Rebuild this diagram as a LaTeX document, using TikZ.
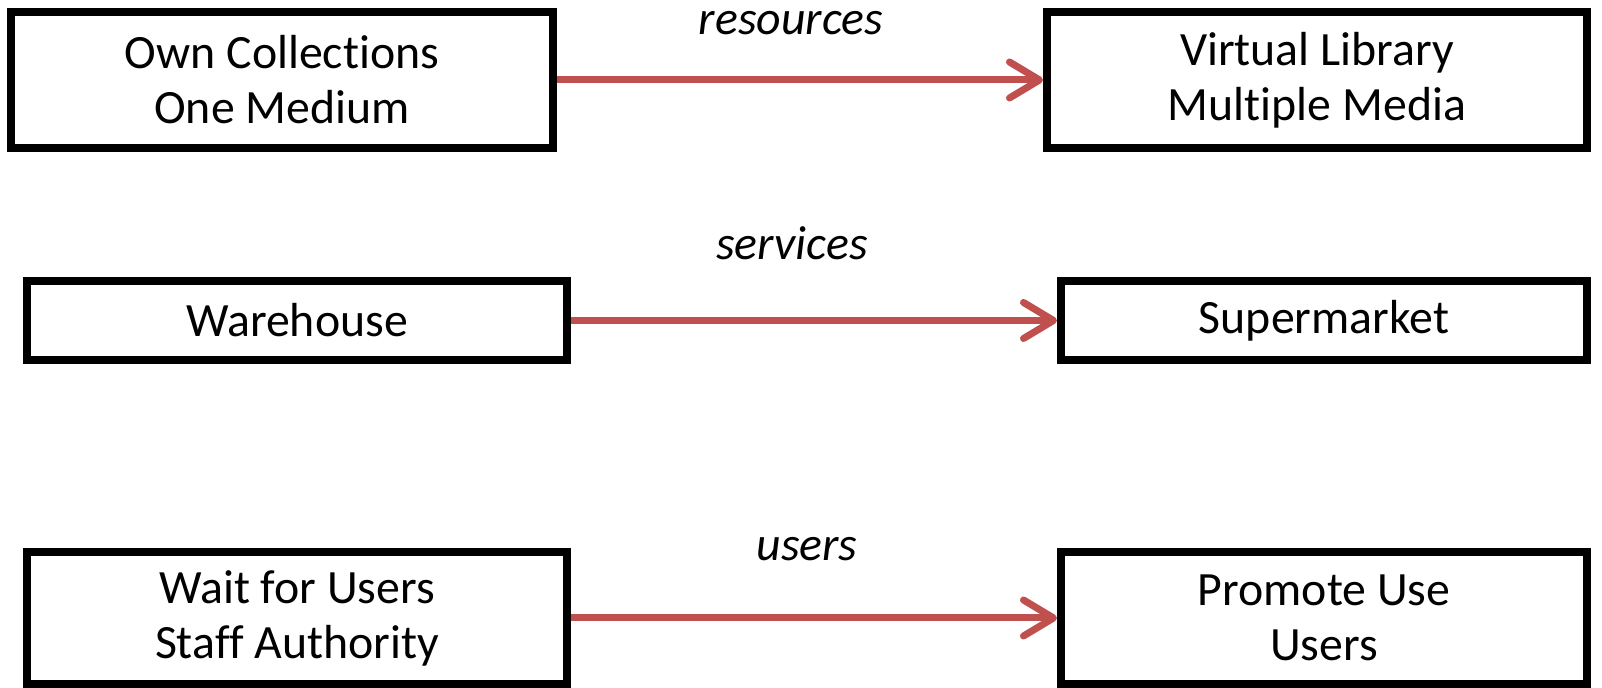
\documentclass[tikz,border=0pt]{standalone}
\usepackage{fontspec}
\setmainfont{Carlito}[Ligatures=NoCommon]
\usetikzlibrary{arrows.meta}
\usetikzlibrary{positioning}

\definecolor{arrowred}{RGB}{192,80,77}

\tikzset{
    box/.style={draw=black, line width=0.08cm, fill=white, align=center,
        font=\fontsize{13.6}{15.65}\selectfont, inner sep=0pt},
    change/.style={draw=arrowred, line width=0.07cm,
        -{Straight Barb[length=3mm, width=3.6mm, round]},
        preaction={draw=black!15, transform canvas={yshift=-0.025cm}}},
    aspect/.style={font=\fontsize{13.6}{15.65}\selectfont\itshape, anchor=base}
}

\begin{document}
\begin{tikzpicture}
    \useasboundingbox (0, 0) rectangle (16.02, 6.88);

    % Resources
    \node[box, minimum width=5.42cm, minimum height=1.36cm] (own) at (2.82, 6.08) {Own Collections\\One Medium};
    \node[box, minimum width=5.40cm, minimum height=1.36cm] (virtual) at (13.17, 6.08) {Virtual Library\\Multiple Media};
    \draw[change] (own) -- (virtual);
    \node[aspect] (resources) at (7.91, 6.53) {resources};

    % Services
    \node[box, minimum width=5.40cm, minimum height=0.79cm] (warehouse) at (2.97, 3.675) {Warehouse};
    \node[box, minimum width=5.26cm, minimum height=0.79cm] (supermarket) at (13.24, 3.675) {Supermarket};
    \draw[change] (warehouse) -- (supermarket);
    \node[aspect] (services) at (7.92, 4.28) {services};

    % Users
    \node[box, minimum width=5.40cm, minimum height=1.32cm] (wait) at (2.97, 0.70) {Wait for Users\\Staff Authority};
    \node[box, minimum width=5.26cm, minimum height=1.32cm] (promote) at (13.24, 0.70) {Promote Use\\Users};
    \draw[change] (wait) -- (promote);
    \node[aspect] (users) at (8.07, 1.27) {users};
\end{tikzpicture}
\end{document}
